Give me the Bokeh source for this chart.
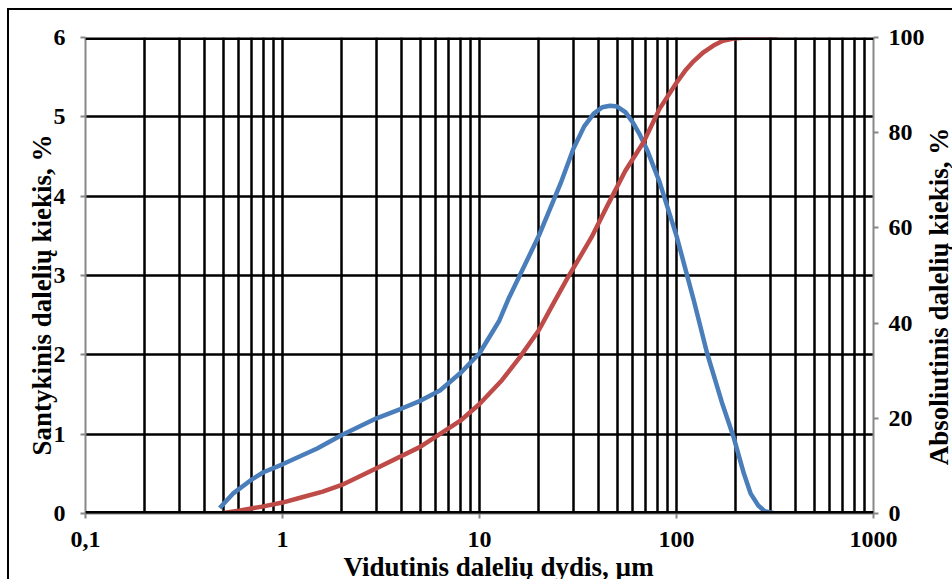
import math
from bokeh.plotting import figure
from bokeh.layouts import row
from bokeh.models import (Range1d, LinearAxis, FixedTicker, Span, Title, Label)
from bokeh.embed import file_html
from bokeh.resources import INLINE

# ---- data ----
blue_d = [0.48, 0.56, 0.69, 0.8, 1.0, 1.5, 2.0, 3.0, 4.0, 5.0, 6.3, 8.0, 10, 12.6, 14,
          16, 20, 25.8, 30, 34, 38, 42, 46, 50, 55, 60, 65, 71, 82, 100, 122, 143, 170,
          195, 220, 238, 260, 280, 318]
blue_v = [0.07, 0.25, 0.42, 0.52, 0.62, 0.82, 0.99, 1.2, 1.32, 1.42, 1.55, 1.77, 2.02,
          2.43, 2.7, 3.0, 3.5, 4.16, 4.6, 4.88, 5.04, 5.12, 5.14, 5.13, 5.06, 4.93, 4.78,
          4.58, 4.18, 3.5, 2.7, 2.02, 1.4, 0.96, 0.5, 0.25, 0.1, 0.03, 0.0]

red_d = [0.48, 0.6, 0.8, 1.0, 1.23, 1.6, 2.0, 3.0, 5.0, 8.0, 10, 13, 16, 20, 24, 28,
         33, 37, 45, 55, 68, 82, 100, 112, 122, 137, 154, 172, 195, 225, 260, 326]
red_v = [0.0, 0.6, 1.5, 2.3, 3.3, 4.6, 6.0, 9.5, 14.0, 19.5, 23.0, 28.0, 32.8, 38.5,
         44.5, 49.5, 54.5, 58.0, 65.0, 72.0, 78.0, 85.0, 90.5, 93.3, 95.0, 96.9, 98.3,
         99.3, 99.8, 100.0, 100.0, 100.0]

x_ticks = [0.1, 1, 10, 100, 1000]
x_tick_labels = ["0,1", "1", "10", "100", "1000"]
y_left_ticks = [0, 1, 2, 3, 4, 5, 6]
y_right_ticks = [0, 20, 40, 60, 80, 100]

x_title = "Vidutinis dalelių dydis, µm"
y_left_title = "Santykinis dalelių kiekis, %"
y_right_title = "Absoliutinis dalelių kiekis, %"

x_minor = [m * t for t in x_ticks[:-1] for m in range(2, 10)]

FONT = "Liberation Serif"
BLUE = "#4A7EBB"
RED = "#BE4B48"

p = figure(x_axis_type="log", x_range=Range1d(0.1, 1000), y_range=Range1d(0, 6),
           frame_width=788, frame_height=476,
           min_border_left=76, min_border_right=51, min_border_top=27, min_border_bottom=66,
           output_backend="svg", toolbar_location=None,
           background_fill_color="white", border_fill_color="white")
p.outline_line_color = None

p.extra_y_ranges = {"cum": Range1d(0, 100)}

# grids
p.xgrid.ticker = FixedTicker(ticks=x_ticks, minor_ticks=x_minor)
p.xgrid.grid_line_color = "black"
p.xgrid.grid_line_width = 2.5
p.xgrid.minor_grid_line_color = "black"
p.xgrid.minor_grid_line_width = 2.5
p.ygrid.ticker = FixedTicker(ticks=y_left_ticks)
p.ygrid.grid_line_color = "black"
p.ygrid.grid_line_width = 2.5

for loc in (0, 6):
    p.add_layout(Span(location=loc, dimension="width", line_color="black", line_width=5))

# x axis
xa = p.xaxis[0]
xa.ticker = FixedTicker(ticks=x_ticks, minor_ticks=[])
xa.major_label_overrides = {t: l for t, l in zip(x_ticks, x_tick_labels)}

# left y axis
ya = p.yaxis[0]
ya.ticker = FixedTicker(ticks=y_left_ticks, minor_ticks=[])

# right y axis
yr = LinearAxis(y_range_name="cum", ticker=FixedTicker(ticks=y_right_ticks, minor_ticks=[]))
p.add_layout(yr, "right")

for ax in (xa, ya, yr):
    ax.axis_line_color = "#888888"
    ax.axis_line_width = 2
    ax.major_tick_line_color = "#888888"
    ax.major_tick_line_width = 2
    ax.major_tick_out = 5
    ax.major_tick_in = 0
    ax.minor_tick_line_color = None
    ax.major_label_text_font = FONT
    ax.major_label_text_font_style = "bold"
    ax.major_label_text_font_size = "24px"
    ax.major_label_text_color = "black"

xa.major_label_standoff = 13
ya.major_label_standoff = 15
yr.major_label_standoff = 10

tstyle = dict(text_font=FONT, text_font_style="bold", text_color="black")
p.add_layout(Title(text=y_left_title, align="left", offset=58, standoff=-12,
                   text_font_size="27px", **tstyle), "left")
p.add_layout(Title(text=x_title, align="left", offset=258, standoff=0,
                   text_font_size="27px", **tstyle), "below")

p.line(blue_d, blue_v, line_color=BLUE, line_width=4.5)
p.line(red_d, red_v, line_color=RED, line_width=4.5, y_range_name="cum")

# narrow companion panel holding the right-hand axis title (reads bottom to top)
p2 = figure(width=28, height=569, x_range=Range1d(0, 1), y_range=Range1d(0, 1),
            x_axis_location=None, y_axis_location=None,
            min_border=0, output_backend="svg", toolbar_location=None,
            background_fill_color="white", border_fill_color="white")
p2.outline_line_color = None
p2.grid.visible = False
p2.add_layout(Label(x=11, y=215, x_units="screen", y_units="screen", text=y_right_title,
                    angle=math.pi / 2, text_align="center", text_baseline="middle",
                    text_font_size="27px", **tstyle))

layout = row(p, p2, spacing=0)
layout.styles = {"margin-left": "7px", "margin-top": "8px",
                 "border-left": "2px solid black", "border-top": "2px solid black"}

open("out.html", "w").write(file_html(layout, INLINE))
